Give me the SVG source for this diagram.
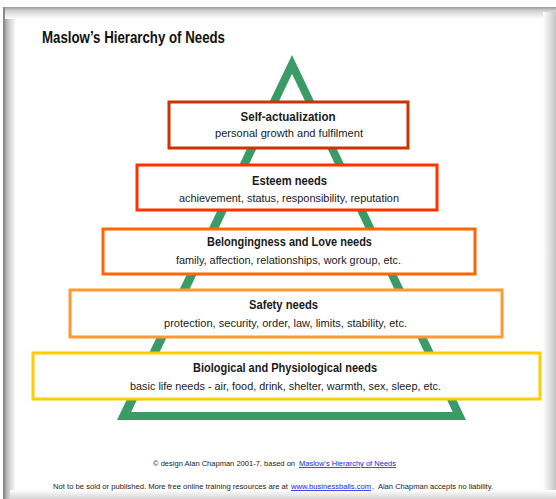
<svg xmlns="http://www.w3.org/2000/svg" width="556" height="499" viewBox="0 0 556 499">
<defs>
<linearGradient id="gl" x1="0" y1="0" x2="1" y2="0"><stop offset="0" stop-color="#8c8c8c"/><stop offset="0.4" stop-color="#c8c8c8"/><stop offset="1" stop-color="#ffffff"/></linearGradient>
<linearGradient id="gt" x1="0" y1="0" x2="0" y2="1"><stop offset="0" stop-color="#9a9a9a"/><stop offset="0.3" stop-color="#d0d0d0"/><stop offset="1" stop-color="#ffffff"/></linearGradient>
<linearGradient id="gr" x1="0" y1="0" x2="1" y2="0"><stop offset="0" stop-color="#ffffff"/><stop offset="1" stop-color="#c4c4c4"/></linearGradient>
<linearGradient id="gb" x1="0" y1="0" x2="0" y2="1"><stop offset="0" stop-color="#ffffff"/><stop offset="1" stop-color="#d4d4d4"/></linearGradient>
</defs>
<style>
.box{fill:#ffffff;stroke-width:3}
.t{font-family:"Liberation Sans",Arial,sans-serif;font-weight:bold;font-size:12px;fill:#1a1a1a;text-anchor:middle}
.s{font-family:"Liberation Sans",Arial,sans-serif;font-size:11px;fill:#1a1a1a;text-anchor:middle}
.f{font-family:"Liberation Sans",Arial,sans-serif;font-size:8px;fill:#222}
.lnk{fill:#1a1aee;text-decoration:underline}
</style>
<rect x="0" y="0" width="556" height="499" fill="#ffffff"/>
<rect x="3" y="7" width="13" height="492" fill="url(#gl)"/>
<rect x="3" y="7" width="553" height="12" fill="url(#gt)"/>
<rect x="3" y="7" width="2" height="492" fill="#8a8a8a"/>
<rect x="543" y="12" width="13" height="487" fill="url(#gr)"/>
<rect x="10" y="490" width="546" height="9" fill="url(#gb)"/>
<text x="42" y="43" font-family="'Liberation Sans',Arial,sans-serif" font-weight="bold" font-size="16" fill="#111" textLength="183" lengthAdjust="spacingAndGlyphs">Maslow’s Hierarchy of Needs</text>
<g id="pyramid">
<path d="M292,55 L117,420 L466,420 Z M292,73.7 L131.2,412 L452.8,412 Z" fill="#3a9b66" fill-rule="evenodd"/>
</g>
<g id="self-actualization">
<rect class="box" x="169" y="102" width="239" height="46" stroke="#cc3300" stroke-width="3.5"/>
<text class="t" x="288" y="121" textLength="95" lengthAdjust="spacingAndGlyphs">Self-actualization</text>
<text class="s" x="289" y="137" textLength="148" lengthAdjust="spacingAndGlyphs">personal growth and fulfilment</text>
</g>
<g id="esteem">
<rect class="box" x="137" y="165" width="300" height="45" stroke="#ff3300"/>
<text class="t" x="289.5" y="185" textLength="75" lengthAdjust="spacingAndGlyphs">Esteem needs</text>
<text class="s" x="289" y="202" textLength="220" lengthAdjust="spacingAndGlyphs">achievement, status, responsibility, reputation</text>
</g>
<g id="belongingness">
<rect class="box" x="103" y="229" width="372" height="45" stroke="#ff6600"/>
<text class="t" x="289.5" y="246" textLength="165" lengthAdjust="spacingAndGlyphs">Belongingness and Love needs</text>
<text class="s" x="288.5" y="264" textLength="225" lengthAdjust="spacingAndGlyphs">family, affection, relationships, work group, etc.</text>
</g>
<g id="safety">
<rect class="box" x="70" y="290" width="432" height="47" stroke="#ff9933"/>
<text class="t" x="283.5" y="309" textLength="69" lengthAdjust="spacingAndGlyphs">Safety needs</text>
<text class="s" x="285.5" y="327" textLength="243" lengthAdjust="spacingAndGlyphs">protection, security, order, law, limits, stability, etc.</text>
</g>
<g id="biological">
<rect class="box" x="33" y="353" width="507" height="46" stroke="#ffcc00"/>
<text class="t" x="285" y="372" textLength="184" lengthAdjust="spacingAndGlyphs">Biological and Physiological needs</text>
<text class="s" x="285.5" y="390" textLength="311" lengthAdjust="spacingAndGlyphs">basic life needs - air, food, drink, shelter, warmth, sex, sleep, etc.</text>
</g>
<g id="connectors"></g>
<g id="footer">
<text class="f" x="153" y="466" textLength="142" lengthAdjust="spacingAndGlyphs">© design Alan Chapman 2001-7, based on</text>
<text class="f lnk" x="299" y="466" textLength="97" lengthAdjust="spacingAndGlyphs">Maslow's Hierarchy of Needs</text>
<text class="f" x="53" y="489" textLength="235" lengthAdjust="spacingAndGlyphs">Not to be sold or published.  More free online training resources are at</text>
<text class="f lnk" x="291" y="489" textLength="80" lengthAdjust="spacingAndGlyphs">www.businessballs.com</text>
<text class="f" x="372" y="489" textLength="121" lengthAdjust="spacingAndGlyphs" xml:space="preserve">.  Alan Chapman accepts no liability.</text>
</g>
</svg>
